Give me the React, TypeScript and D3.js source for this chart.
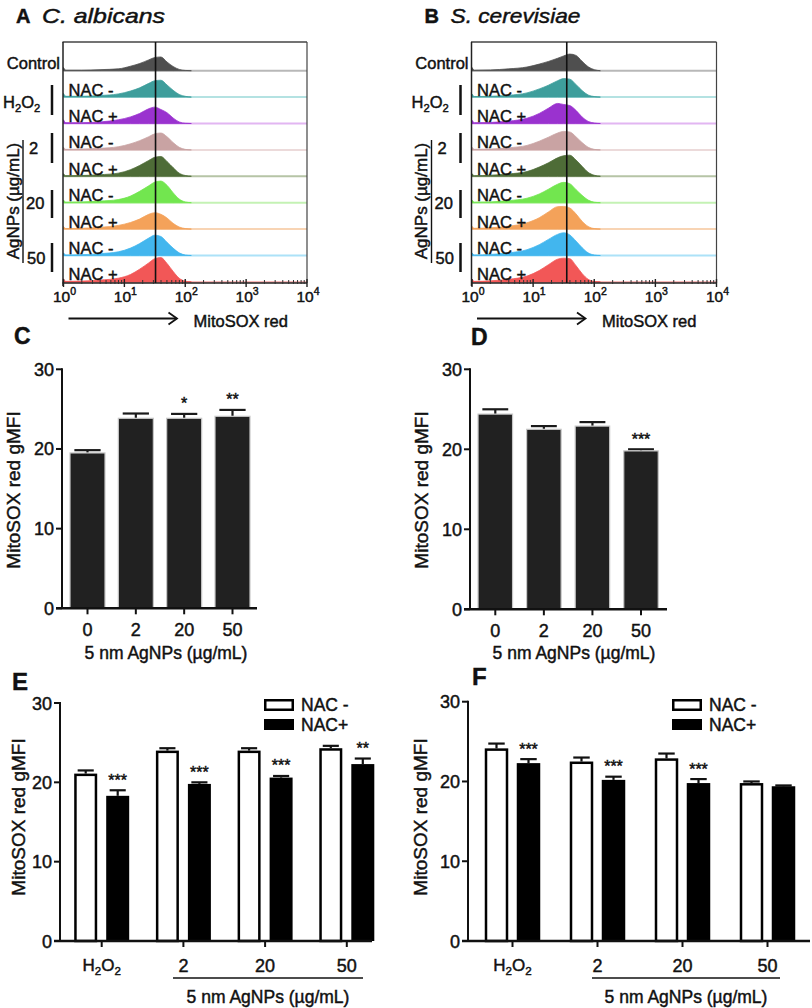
import React from 'react';
import * as d3 from 'd3';

const FONT = "'Liberation Sans', Arial, Helvetica, sans-serif";

// ---------- Histogram data (flow cytometry, MitoSOX red) ----------
// log10 positions of the sampled histogram heights (relative counts 0-100)
const HIST_LOGS = [0, 0.04, 0.3, 0.6, 0.9, 1.1, 1.25, 1.4, 1.5, 1.6, 1.7, 1.8, 1.9, 2.0, 2.1];
const ROW_LABELS = ['', 'NAC -', 'NAC +', 'NAC -', 'NAC +', 'NAC -', 'NAC +', 'NAC -', 'NAC +'];
const FILL_COLORS = ['#4f4f4f', '#3e9e9c', '#9a32cf', '#c9a3a3', '#4e6c37', '#72e64f', '#f4a25a', '#42b6ee', '#f25757'];
const BASE_COLORS = ['#b8b8b8', '#b4e2e2', '#e2b6f2', '#ecdada', '#b6c4a6', '#c4f2b4', '#f8d4b4', '#ace2f8', '#f8b8b8'];

const HIST_A = [
  [12, 2, 2, 4, 7, 17, 27, 41, 50, 52, 33, 16, 5, 1, 0],
  [14, 3, 3, 6, 12, 23, 35, 52, 62, 64, 46, 26, 10, 3, 0],
  [14, 3, 3, 6, 14, 25, 38, 56, 62, 53, 41, 21, 6, 1, 0],
  [10, 2, 3, 6, 12, 23, 35, 50, 61, 64, 50, 28, 10, 2, 0],
  [10, 2, 3, 6, 12, 25, 41, 60, 72, 75, 56, 33, 12, 3, 0],
  [10, 2, 3, 6, 12, 25, 43, 64, 78, 82, 66, 38, 14, 3, 0],
  [10, 2, 3, 7, 14, 25, 38, 56, 62, 56, 42, 22, 8, 2, 0],
  [10, 2, 3, 7, 14, 28, 45, 66, 77, 72, 50, 28, 10, 2, 0],
  [12, 2, 3, 7, 14, 28, 48, 72, 88, 92, 70, 40, 14, 3, 0],
];
const HIST_B = [
  [12, 2, 3, 7, 14, 25, 35, 47, 56, 63, 58, 36, 15, 4, 0],
  [12, 2, 3, 7, 16, 31, 45, 62, 70, 68, 48, 25, 8, 2, 0],
  [12, 3, 4, 9, 20, 38, 58, 76, 72, 68, 50, 25, 8, 2, 0],
  [10, 2, 3, 8, 17, 33, 48, 64, 70, 68, 50, 28, 10, 2, 0],
  [10, 2, 4, 9, 18, 35, 51, 70, 78, 80, 62, 38, 15, 4, 0],
  [10, 2, 3, 8, 17, 33, 51, 70, 77, 72, 50, 28, 10, 2, 0],
  [10, 3, 5, 11, 24, 43, 65, 85, 86, 80, 58, 30, 10, 2, 0],
  [10, 2, 4, 10, 22, 41, 61, 80, 86, 78, 55, 30, 10, 2, 0],
  [10, 2, 4, 10, 22, 43, 65, 86, 90, 88, 62, 32, 10, 2, 0],
];
const MEDIAN_A = 32.5;
const MEDIAN_B = 35.5;
const DECADES = [0, 1, 2, 3, 4];

// ---------- Bar data ----------
const DOSES = ['0', '2', '20', '50'];
const C_VALUES = [19.5, 23.85, 23.85, 24.1];
const C_ERR = [0.35, 0.6, 0.55, 0.8];
const C_SIG = ['', '', '*', '**'];
const D_VALUES = [24.4, 22.5, 22.9, 19.8];
const D_ERR = [0.6, 0.4, 0.5, 0.2];
const D_SIG = ['', '', '', '***'];

const GROUPS = ['H2O2', '2', '20', '50'];
const E_NAC_MINUS = [21.1, 24.0, 24.0, 24.3];
const E_NAC_MINUS_ERR = [0.4, 0.3, 0.3, 0.3];
const E_NAC_PLUS = [18.3, 19.8, 20.6, 22.3];
const E_NAC_PLUS_ERR = [0.7, 0.2, 0.2, 0.7];
const E_SIG = ['***', '***', '***', '**'];
const F_NAC_MINUS = [24.15, 22.5, 22.9, 19.8];
const F_NAC_MINUS_ERR = [0.6, 0.5, 0.6, 0.2];
const F_NAC_PLUS = [22.3, 20.2, 19.8, 19.4];
const F_NAC_PLUS_ERR = [0.5, 0.4, 0.5, 0.1];
const F_SIG = ['***', '***', '***', ''];
const Y_TICKS = [0, 10, 20, 30];

const ROW_H = 26.4;
const FIRST_BASE = 70.7;
const H_TOP = 42;
const H_AXIS = 283;

function H2O2({ x, y, size = 16, anchor = 'start' }: any) {
  const sub = size * 0.68;
  return (
    <text x={x} y={y} fontSize={size} textAnchor={anchor} fill="#111">
      H<tspan fontSize={sub} dy={4}>2</tspan>
      <tspan fontSize={size} dy={-4}>O</tspan>
      <tspan fontSize={sub} dy={4}>2</tspan>
    </text>
  );
}

function HistPanel({ left, right, data, median, dx, letter, species, speciesLen }: any) {
  const x = d3.scaleLog().domain([1, 1e4]).range([left, right]);
  const h = d3.scaleLinear().domain([0, 100]).range([0, ROW_H]);
  const minors: number[] = [];
  DECADES.slice(0, 4).forEach((k) => {
    for (let m = 2; m <= 9; m++) minors.push(m * 10 ** k);
  });
  return (
    <g>
      <text x={16 + dx} y={23} fontSize={20} fontWeight="bold" fill="#111">{letter}</text>
      <text x={42 + dx} y={23} fontSize={21} fontStyle="italic" fill="#111" textLength={speciesLen} lengthAdjust="spacingAndGlyphs">{species}</text>
      {data.map((vals: number[], i: number) => {
        const base = FIRST_BASE + ROW_H * i;
        const area = d3
          .area<number>()
          .x((_, j) => x(10 ** HIST_LOGS[j]))
          .y0(base)
          .y1((v) => base - h(v))
          .curve(d3.curveMonotoneX);
        return (
          <g key={i}>
            <line x1={left} x2={right} y1={base} y2={base} stroke={BASE_COLORS[i]} strokeWidth={2} />
            <path d={area(vals) || ''} fill={FILL_COLORS[i]} stroke={FILL_COLORS[i]} strokeWidth={0.8} />
            {ROW_LABELS[i] && (
              <text x={left + 5} y={base - 1.5} fontSize={16.5} fill="#111">{ROW_LABELS[i]}</text>
            )}
          </g>
        );
      })}
      {/* frame */}
      <line x1={left - 1} x2={right} y1={H_TOP} y2={H_TOP} stroke="#444" strokeWidth={1.6} />
      <line x1={left - 0.5} x2={left - 0.5} y1={H_TOP} y2={H_AXIS + 3} stroke="#222" strokeWidth={1.5} />
      <line x1={right} x2={right} y1={H_TOP} y2={H_AXIS} stroke="#444" strokeWidth={1.2} />
      <line x1={left - 1} x2={right} y1={H_AXIS} y2={H_AXIS} stroke="#222" strokeWidth={1.5} />
      <line x1={x(median)} x2={x(median)} y1={H_TOP} y2={H_AXIS} stroke="#111" strokeWidth={1.6} />
      {minors.map((m, i) => (
        <line key={i} x1={x(m)} x2={x(m)} y1={H_AXIS - 3} y2={H_AXIS + 1} stroke="#333" strokeWidth={1} />
      ))}
      {DECADES.map((k) => (
        <g key={k}>
          <line x1={x(10 ** k)} x2={x(10 ** k)} y1={H_AXIS - 4} y2={H_AXIS + 4} stroke="#222" strokeWidth={1.4} />
          <text x={x(10 ** k) + 1} y={302} fontSize={15.5} textAnchor="middle" fill="#111">
            10<tspan fontSize={10.5} dy={-7}>{k}</tspan>
          </text>
        </g>
      ))}
      {/* arrow */}
      <line x1={left + 5} x2={left + 113} y1={318.5} y2={318.5} stroke="#111" strokeWidth={1.8} />
      <path d={`M${left + 105},${312.5} L${left + 113.5},${318.5} L${left + 105},${324.5}`} fill="none" stroke="#111" strokeWidth={1.8} />
      <text x={left + 130} y={327} fontSize={16.5} fill="#111">MitoSOX red</text>
      {/* left labels */}
      <text x={60 + dx} y={68.5} fontSize={16.5} textAnchor="end" fill="#111">Control</text>
      <H2O2 x={3 + dx} y={107.5} size={16.5} />
      <line x1={52 + dx} x2={52 + dx} y1={85} y2={115} stroke="#111" strokeWidth={2.5} />
      <text x={29 + dx} y={154} fontSize={16.5} fill="#111">2</text>
      <line x1={52 + dx} x2={52 + dx} y1={133} y2={163} stroke="#111" strokeWidth={2.5} />
      <text x={26 + dx} y={209} fontSize={16.5} fill="#111">20</text>
      <line x1={52 + dx} x2={52 + dx} y1={190} y2={218} stroke="#111" strokeWidth={2.5} />
      <text x={27 + dx} y={264} fontSize={16.5} fill="#111">50</text>
      <line x1={52 + dx} x2={52 + dx} y1={243} y2={272} stroke="#111" strokeWidth={2.5} />
      <text transform={`translate(${18.5 + dx},201) rotate(-90)`} fontSize={17} textAnchor="middle" fill="#111">AgNPs (µg/mL)</text>
      <line x1={23 + dx} x2={23 + dx} y1={140} y2={263} stroke="#111" strokeWidth={1.4} />
    </g>
  );
}

function YAxis({ y, axisX, xEnd, labelX, labelY }: any) {
  return (
    <g>
      <line x1={axisX} x2={axisX} y1={y(30) - 1} y2={y(0)} stroke="#111" strokeWidth={2} />
      {Y_TICKS.map((t) => (
        <g key={t}>
          <line x1={axisX - 6} x2={axisX} y1={y(t)} y2={y(t)} stroke="#111" strokeWidth={2} />
          <text x={axisX - 8} y={y(t) + 6.5} fontSize={18} textAnchor="end" fill="#111">{t}</text>
        </g>
      ))}
      <line x1={axisX - 6} x2={xEnd} y1={y(0)} y2={y(0)} stroke="#111" strokeWidth={2.4} />
      <text transform={`translate(${labelX},${labelY}) rotate(-90)`} fontSize={19} textAnchor="middle" fill="#111">MitoSOX red gMFI</text>
    </g>
  );
}

function ErrBar({ cx, y, v, e, capW, color = '#111' }: any) {
  return (
    <g>
      <line x1={cx} x2={cx} y1={y(v)} y2={y(v + e)} stroke={color} strokeWidth={2.2} />
      <line x1={cx - capW / 2} x2={cx + capW / 2} y1={y(v + e)} y2={y(v + e)} stroke={color} strokeWidth={2.2} />
    </g>
  );
}

function Stars({ cx, top, s }: any) {
  if (!s) return null;
  return (
    <text x={cx} y={top - 13 + 8.5} fontSize={16} textAnchor="middle" fill="#111">{s}</text>
  );
}

function SimplePanel({ letter, letterX, letterY, axisX, xEnd, yBottom, yTop, c0, c1, barW, values, errs, sigs, labelX, titleX }: any) {
  const y = d3.scaleLinear().domain([0, 30]).range([yBottom, yTop]);
  const x = d3.scalePoint<string>().domain(DOSES).range([c0, c1]);
  return (
    <g>
      <text x={letterX} y={letterY} fontSize={23} fontWeight="bold" fill="#111">{letter}</text>
      {DOSES.map((d, i) => {
        const cx = x(d) as number;
        return (
          <g key={d}>
            <ErrBar cx={cx} y={y} v={values[i]} e={errs[i]} capW={barW * 0.75} color="#1a1a1a" />
            <rect x={cx - barW / 2} y={y(values[i])} width={barW} height={y(0) - y(values[i])} fill="#212121" stroke="#c8c8c8" strokeWidth={1.2} />
            <Stars cx={cx} top={y(values[i] + errs[i])} s={sigs[i]} />
            <line x1={cx} x2={cx} y1={y(0)} y2={y(0) + 6} stroke="#111" strokeWidth={2} />
            <text x={cx} y={y(0) + 28} fontSize={18} textAnchor="middle" fill="#111">{d}</text>
          </g>
        );
      })}
      <YAxis y={y} axisX={axisX} xEnd={xEnd} labelX={labelX} labelY={490} />
      <text x={titleX} y={659} fontSize={17.5} textAnchor="middle" fill="#111">5 nm AgNPs (µg/mL)</text>
    </g>
  );
}

function GroupPanel({ letter, letterX, letterY, axisX, xEnd, yTop, c0, c1, barW, gap, minus, minusErr, plus, plusErr, sigs, labelX, legendX, underline }: any) {
  const y = d3.scaleLinear().domain([0, 30]).range([941, yTop]);
  const x = d3.scalePoint<string>().domain(GROUPS).range([c0, c1]);
  return (
    <g>
      <text x={letterX} y={letterY} fontSize={24} fontWeight="bold" fill="#111">{letter}</text>
      {GROUPS.map((g, i) => {
        const cx = x(g) as number;
        const wx = cx - gap / 2 - barW / 2;
        const bx = cx + gap / 2 + barW / 2;
        return (
          <g key={g}>
            <ErrBar cx={wx} y={y} v={minus[i]} e={minusErr[i]} capW={barW * 0.7} />
            <rect x={wx - barW / 2 + 1.25} y={y(minus[i]) + 1.25} width={barW - 2.5} height={y(0) - y(minus[i]) - 1.25} fill="#fff" stroke="#000" strokeWidth={2.5} />
            <ErrBar cx={bx} y={y} v={plus[i]} e={plusErr[i]} capW={barW * 0.7} />
            <rect x={bx - barW / 2} y={y(plus[i])} width={barW} height={y(0) - y(plus[i])} fill="#000" />
            <Stars cx={bx} top={y(plus[i] + plusErr[i])} s={sigs[i]} />
            <line x1={cx} x2={cx} y1={y(0)} y2={y(0) + 6} stroke="#111" strokeWidth={2} />
            {g === 'H2O2' ? (
              <H2O2 x={cx} y={971} size={17} anchor="middle" />
            ) : (
              <text x={cx} y={971.5} fontSize={18} textAnchor="middle" fill="#111">{g}</text>
            )}
          </g>
        );
      })}
      <YAxis y={y} axisX={axisX} xEnd={xEnd} labelX={labelX} labelY={817} />
      <line x1={underline[0]} x2={underline[1]} y1={978} y2={978} stroke="#111" strokeWidth={1.3} />
      <text x={(underline[0] + underline[1]) / 2} y={1003} fontSize={17.5} textAnchor="middle" fill="#111">5 nm AgNPs (µg/mL)</text>
      {/* legend */}
      <rect x={legendX + 1.25} y={699 + 1.25} width={27.5} height={9.5} fill="#fff" stroke="#000" strokeWidth={2.5} />
      <text x={legendX + 37} y={711} fontSize={17.5} fill="#111">NAC -</text>
      <rect x={legendX} y={719} width={30} height={11} fill="#000" />
      <text x={legendX + 37} y={731} fontSize={17.5} fill="#111">NAC+</text>
    </g>
  );
}

export default function App() {
  return (
    <svg width={812} height={1008} style={{ position: 'absolute', left: 0, top: 0, background: '#fff' }} fontFamily={FONT}>
      <style>{`text { stroke: #111; stroke-width: 0.45px; }`}</style>
      <rect width={812} height={1008} fill="#fff" />
      <HistPanel left={63.5} right={307} data={HIST_A} median={MEDIAN_A} dx={0} letter="A" species="C. albicans" speciesLen={123} />
      <HistPanel left={472} right={716.5} data={HIST_B} median={MEDIAN_B} dx={408.5} letter="B" species="S. cerevisiae" speciesLen={130} />

      <SimplePanel letter="C" letterX={14} letterY={344} axisX={62} xEnd={257} yBottom={608.3} yTop={369.3}
        c0={87.5} c1={232.5} barW={35} values={C_VALUES} errs={C_ERR} sigs={C_SIG} labelX={20} titleX={166} />
      <SimplePanel letter="D" letterX={471} letterY={345} axisX={470} xEnd={667} yBottom={609.3} yTop={369.3}
        c0={495.3} c1={641} barW={34.5} values={D_VALUES} errs={D_ERR} sigs={D_SIG} labelX={428} titleX={574} />

      <GroupPanel letter="E" letterX={12} letterY={690} axisX={60} xEnd={372} yTop={703}
        c0={101.7} c1={346.8} barW={23} gap={9} minus={E_NAC_MINUS} minusErr={E_NAC_MINUS_ERR}
        plus={E_NAC_PLUS} plusErr={E_NAC_PLUS_ERR} sigs={E_SIG} labelX={25} legendX={264} underline={[173, 363]} />
      <GroupPanel letter="F" letterX={472} letterY={685} axisX={468} xEnd={810} yTop={701.7}
        c0={512.5} c1={767.5} barW={23.5} gap={8.5} minus={F_NAC_MINUS} minusErr={F_NAC_MINUS_ERR}
        plus={F_NAC_PLUS} plusErr={F_NAC_PLUS_ERR} sigs={F_SIG} labelX={427} legendX={672} underline={[592, 780]} />
    </svg>
  );
}
